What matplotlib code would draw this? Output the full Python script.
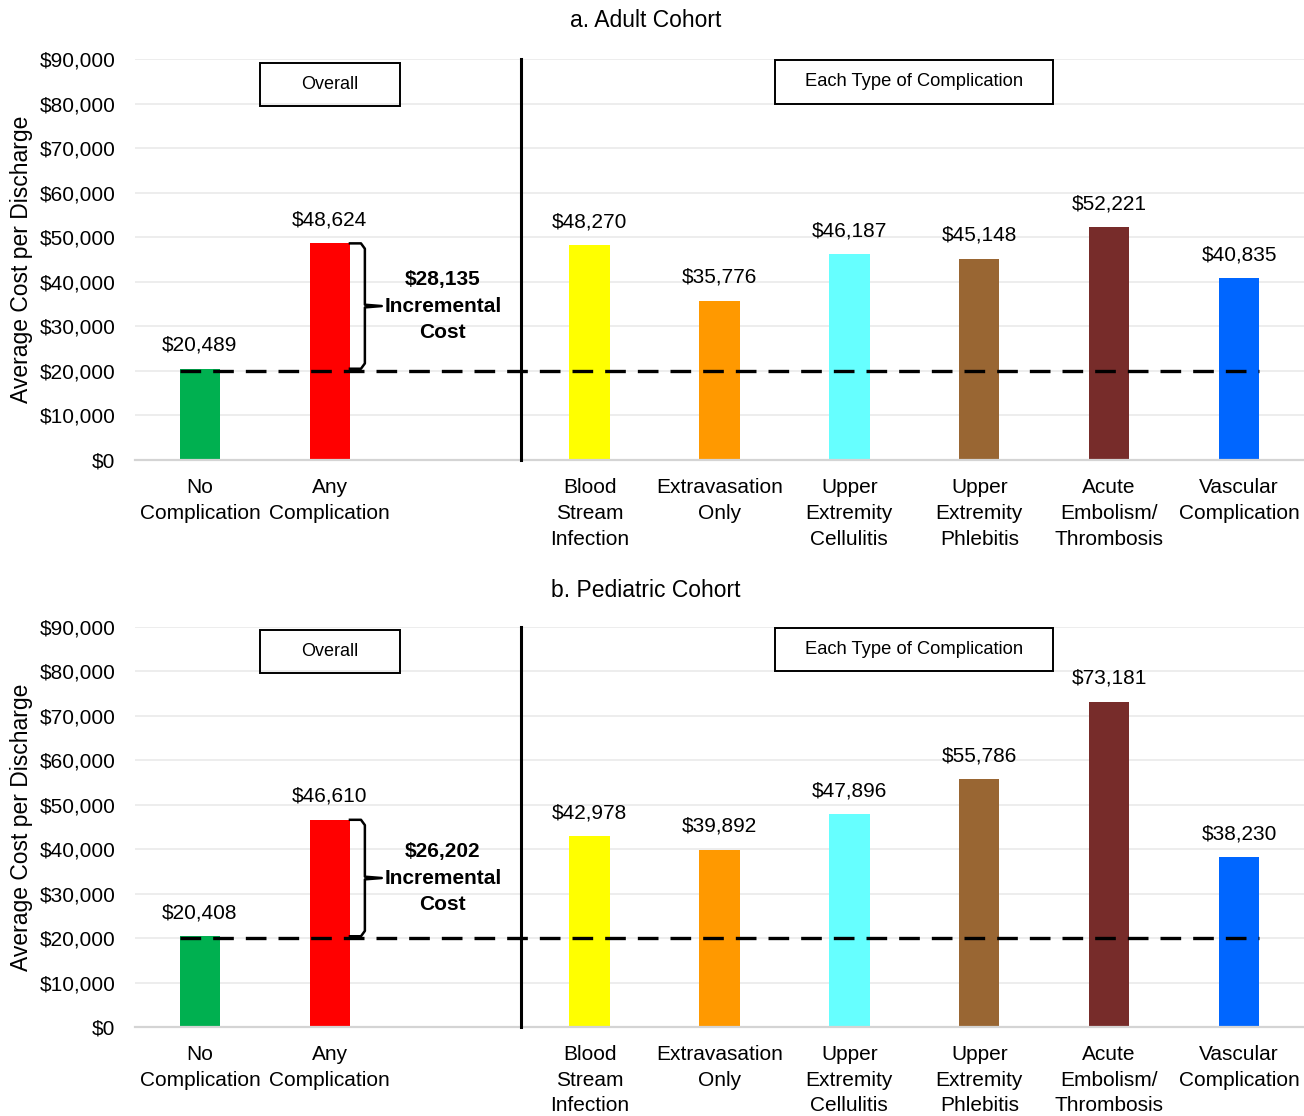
import matplotlib.pyplot as plt
from matplotlib.patches import Rectangle

plt.rcParams['font.family'] = ['Liberation Sans', 'DejaVu Sans']

categories = ['No\nComplication', 'Any\nComplication',
              'Blood\nStream\nInfection', 'Extravasation\nOnly',
              'Upper\nExtremity\nCellulitis', 'Upper\nExtremity\nPhlebitis',
              'Acute\nEmbolism/\nThrombosis', 'Vascular\nComplication']
# one empty slot between the overall pair and the complication types
slots = [0, 1, 3, 4, 5, 6, 7, 8]

adult_cost = [20489, 48624, 48270, 35776, 46187, 45148, 52221, 40835]
pediatric_cost = [20408, 46610, 42978, 39892, 47896, 55786, 73181, 38230]

bar_colors = ['#00B050', '#FF0000', '#FFFF00', '#FF9900',
              '#66FFFF', '#996633', '#772C2A', '#0066FF']

BASELINE = 20000
FS = 15
BAR_W = 0.31

fig = plt.figure(figsize=(13.04, 11.16), dpi=100)


def draw_panel(ax, costs, title, title_y, box1_y, box2_y):
    ax.bar(slots, costs, width=BAR_W, color=bar_colors, zorder=2)
    ax.set_xlim(-0.5, 8.5)
    ax.set_ylim(0, 90000)
    ax.set_yticks(range(0, 90001, 10000))
    ax.set_yticklabels([f'${v:,}' for v in range(0, 90001, 10000)], fontsize=FS)
    ax.set_xticks(slots)
    ax.set_xticklabels(categories, fontsize=FS, linespacing=1.45, va='top')
    ax.tick_params(axis='both', length=0)
    ax.tick_params(axis='y', pad=14)
    ax.tick_params(axis='x', pad=13)
    ax.grid(axis='y', color='#EAEAEA', linewidth=1.2, zorder=0)
    for s in ['top', 'right', 'left']:
        ax.spines[s].set_visible(False)
    ax.spines['bottom'].set_color('#D4D4D4')
    ax.spines['bottom'].set_linewidth(1.6)
    ax.set_ylabel('Average Cost per Discharge', fontsize=16.5, labelpad=5)

    # value labels
    for x, v in zip(slots, costs):
        ax.annotate(f'${v:,}', (x, v), xytext=(0, 10), textcoords='offset points',
                    ha='center', va='bottom', fontsize=FS)

    # baseline dashed line and separator
    ax.plot([slots[0] - BAR_W / 2, slots[-1] + BAR_W / 2], [BASELINE, BASELINE],
            color='black', lw=2.4, linestyle=(0, (6.2, 3.6)), zorder=3)
    ax.plot([2.47, 2.47], [0, 90000], color='black', lw=2.2, zorder=3,
            clip_on=False)

    # brace showing the incremental cost
    top, bot = costs[1], costs[0]
    mid = (top + bot) / 2
    x0 = 1 + BAR_W / 2
    xv = 1.27
    xt = 1.40
    ax.plot([x0, xv - 0.03, xv, xv, xt, xv, xv, xv - 0.03, x0],
            [top, top, top - 1200, mid + 300, mid, mid - 300, bot + 1200, bot, bot],
            color='black', lw=1.8, zorder=3, solid_joinstyle='round')
    ax.text(1.87, mid, f'${top - bot:,}\nIncremental\nCost', ha='center',
            va='center', fontsize=FS, fontweight='bold', linespacing=1.5)

    # section boxes
    ax.add_patch(Rectangle((1 - 0.54, box1_y[0]), 1.08, box1_y[1] - box1_y[0],
                           fill=False, ec='black', lw=1.4, zorder=4))
    ax.text(1, sum(box1_y) / 2, 'Overall', ha='center', va='center', fontsize=13)
    ax.add_patch(Rectangle((5.5 - 1.07, box2_y[0]), 2.14, box2_y[1] - box2_y[0],
                           fill=False, ec='black', lw=1.4, zorder=4))
    ax.text(5.5, sum(box2_y) / 2, 'Each Type of Complication', ha='center',
            va='center', fontsize=13.2)

    fig.text(0.495, title_y, title, ha='center', va='center', fontsize=16.5)


ax_a = fig.add_axes([0.1035, 0.5878, 0.8965, 0.3593])
draw_panel(ax_a, adult_cost, 'a. Adult Cohort', 0.982,
           (79450, 89100), (79900, 89800))

ax_b = fig.add_axes([0.1035, 0.0798, 0.8965, 0.3584])
draw_panel(ax_b, pediatric_cost, 'b. Pediatric Cohort', 0.4713,
           (79650, 89325), (80100, 89775))

fig.savefig('out.png', dpi=100)
